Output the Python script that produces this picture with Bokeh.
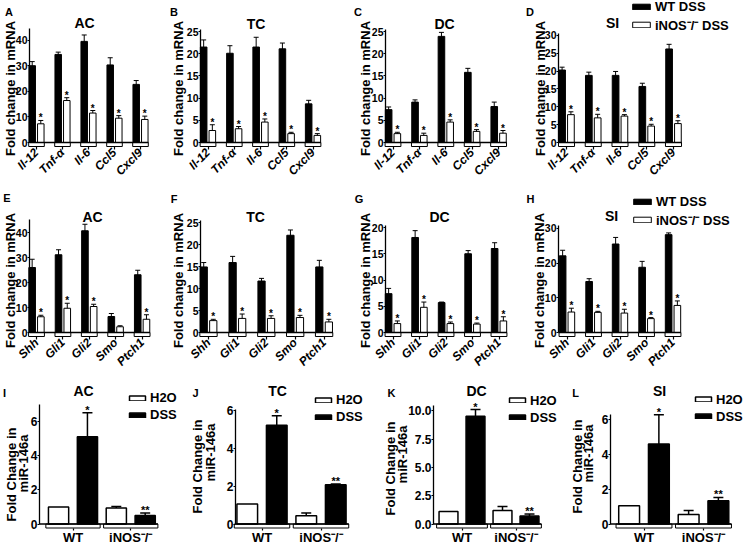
import math
from bokeh.plotting import figure
from bokeh.models import (Range1d, FixedTicker, Label, Legend, LegendItem,
                          Whisker, ColumnDataSource, TeeHead)
from bokeh.layouts import row, column
from bokeh.embed import file_html
from bokeh.resources import INLINE
from bokeh.core.properties import value

FONT = "Liberation Sans"
SX = 1.0
SY = 1.0

# ---------------- data ----------------
cyto_genes = ["Il-12", "Tnf-α", "Il-6", "Ccl5", "Cxcl9"]
hh_genes = ["Shh", "Gli1", "Gli2", "Smo", "Ptch1"]
mir_groups = ["WT", "iNOS⁻/⁻"]
gene_series = ["WT DSS", "iNOS⁻/⁻ DSS"]
mir_series = ["H2O", "DSS"]
ylab_gene = ["Fold change in mRNA"]
ylab_mir = ["Fold Change in", "miR-146a"]

A_wt = [30.0, 34.4, 39.5, 30.3, 22.7]
A_wt_err = [1.6, 0.9, 2.5, 2.8, 1.5]
A_ko = [7.3, 16.4, 11.5, 9.5, 9.0]
A_ko_err = [1.3, 1.1, 1.0, 1.0, 1.3]
A_sig = ["*", "*", "*", "*", "*"]

B_wt = [21.5, 20.1, 21.5, 21.1, 8.7]
B_wt_err = [1.6, 1.7, 2.2, 1.3, 0.8]
B_ko = [2.7, 3.1, 4.6, 2.0, 1.6]
B_ko_err = [1.3, 0.5, 0.7, 0.3, 0.4]
B_sig = ["*", "*", "*", "*", "*"]

C_wt = [7.4, 9.1, 23.9, 15.8, 8.1]
C_wt_err = [0.6, 0.5, 0.9, 0.9, 1.0]
C_ko = [2.0, 1.6, 4.6, 2.5, 2.1]
C_ko_err = [0.3, 0.5, 0.5, 0.4, 0.6]
C_sig = ["*", "*", "*", "*", "*"]

D_wt = [20.3, 18.8, 18.8, 15.7, 26.2]
D_wt_err = [0.8, 0.9, 1.1, 0.9, 1.3]
D_ko = [7.8, 6.9, 7.4, 4.6, 5.3]
D_ko_err = [0.8, 1.0, 0.4, 0.5, 0.8]
D_sig = ["*", "*", "*", "*", "*"]

E_wt = [26.0, 31.1, 40.7, 6.4, 23.1]
E_wt_err = [3.3, 2.0, 2.6, 1.2, 1.8]
E_ko = [6.3, 9.7, 10.4, 2.3, 5.3]
E_ko_err = [0.6, 2.0, 0.9, 0.4, 1.8]
E_sig = ["*", "*", "*", "", "*"]

F_wt = [14.9, 15.9, 11.7, 22.1, 14.9]
F_wt_err = [1.0, 1.4, 0.6, 1.2, 1.5]
F_ko = [2.7, 3.2, 3.2, 3.4, 2.4]
F_ko_err = [0.3, 1.0, 0.6, 0.5, 0.6]
F_sig = ["*", "*", "*", "*", "*"]

G_wt = [7.4, 18.1, 5.7, 15.0, 16.0]
G_wt_err = [1.0, 1.3, 0.1, 0.6, 1.1]
G_ko = [1.7, 4.8, 1.7, 1.6, 2.2]
G_ko_err = [0.5, 1.0, 0.3, 0.2, 0.8]
G_sig = ["*", "*", "*", "*", "*"]

H_wt = [22.1, 14.7, 25.5, 18.8, 28.2]
H_wt_err = [1.6, 0.8, 1.9, 1.7, 0.5]
H_ko = [5.9, 5.8, 5.6, 4.0, 7.8]
H_ko_err = [1.1, 0.3, 1.1, 0.3, 1.3]
H_sig = ["*", "*", "*", "*", "*"]

I_h2o = [1.0, 0.94]
I_h2o_err = [0.0, 0.09]
I_dss = [5.1, 0.49]
I_dss_err = [1.4, 0.15]
I_sig = ["*", "**"]

J_h2o = [1.05, 0.44]
J_h2o_err = [0.0, 0.14]
J_dss = [5.2, 2.07]
J_dss_err = [0.5, 0.03]
J_sig = ["*", "**"]

K_h2o = [1.1, 1.2]
K_h2o_err = [0.0, 0.35]
K_dss = [9.5, 0.7]
K_dss_err = [0.6, 0.18]
K_sig = ["*", "**"]

L_h2o = [1.05, 0.54]
L_h2o_err = [0.0, 0.23]
L_dss = [4.6, 1.34]
L_dss_err = [1.68, 0.19]
L_sig = ["*", "**"]

ticks_A = [0, 10, 20, 30, 40]
ticks_B = [0, 5, 10, 15, 20, 25]
ticks_C = [0, 5, 10, 15, 20, 25]
ticks_D = [0, 5, 10, 15, 20, 25, 30]
ticks_E = [0, 10, 20, 30, 40]
ticks_F = [0, 5, 10, 15, 20, 25]
ticks_G = [0, 5, 10, 15, 20]
ticks_H = [0, 10, 20, 30]
ticks_I = [0, 2, 4, 6]
ticks_J = [0, 2, 4, 6]
ticks_K = [0, 2.5, 5, 7.5, 10]
ticklabels_K = ["0.0", "2.5", "5.0", "7.5", "10.0"]
ticks_L = [0, 2, 4, 6]

# ---------------- layout geometry (reference pixels) ----------------
R1, R2, R3 = (0, 188), (188, 377), (377, 545)
B3 = 523.5
GEOM = {
    "A": dict(kind="gene", fig=(0, 165), rowy=R1, axis=29, c0=36, sp=26, base=142, ppu=2.56, top=44.5,
              letter=(8.5, 11.5), title=("AC", 84, 22), ylab=[(10, 88)], legend=None),
    "B": dict(kind="gene", fig=(165, 350), rowy=R1, axis=200, c0=207.5, sp=26.25, base=142, ppu=4.44, top=25.5,
              letter=(173.5, 11.5), title=("TC", 255.5, 23), ylab=[(178, 88)], legend=None),
    "C": dict(kind="gene", fig=(350, 520), rowy=R1, axis=385, c0=392.5, sp=26.4, base=142, ppu=4.44, top=25.5,
              letter=(357.5, 11.5), title=("DC", 444, 23), ylab=[(365, 88)], legend=None),
    "D": dict(kind="gene", fig=(520, 745), rowy=R1, axis=558, c0=566, sp=26.75, base=142, ppu=3.57, top=30.5,
              letter=(529.5, 11.5), title=("SI", 612, 22), ylab=[(540, 88)], legend=(630, 6.0, 22.0)),
    "E": dict(kind="gene", fig=(0, 165), rowy=R2, axis=29, c0=36, sp=26.4, base=332, ppu=2.5, top=45.4,
              letter=(6.5, 197.5), title=("AC", 92, 216), ylab=[(10, 280)], legend=None),
    "F": dict(kind="gene", fig=(165, 350), rowy=R2, axis=200, c0=208, sp=28.9, base=332, ppu=4.4, top=25.5,
              letter=(173.5, 198), title=("TC", 255, 216), ylab=[(178, 280)], legend=None),
    "G": dict(kind="gene", fig=(350, 520), rowy=R2, axis=385, c0=392.5, sp=26.5, base=332, ppu=5.25, top=20.4,
              letter=(358.5, 198), title=("DC", 439, 216), ylab=[(365, 280)], legend=None),
    "H": dict(kind="gene", fig=(520, 745), rowy=R2, axis=558, c0=566.5, sp=26.5, base=332, ppu=3.47, top=30.9,
              letter=(530, 198), title=("SI", 611, 215), ylab=[(539, 280)], legend=(631, 199, 217)),
    "I": dict(kind="mir", fig=(0, 188), rowy=R3, axis=39, c0=72.5, sp=57.75, base=B3, ppu=17.1, top=7.0,
              letter=(4, 392), title=("AC", 83, 390), ylab=[(11, 474), (23, 463)], legend=(127, 395.5, 411)),
    "J": dict(kind="mir", fig=(188, 375), rowy=R3, axis=235, c0=261.5, sp=59, base=B3, ppu=19.0, top=6.05,
              letter=(195, 392), title=("TC", 277, 390), ylab=[(197, 466), (210, 452)], legend=(313, 397, 413)),
    "K": dict(kind="mir", fig=(375, 560), rowy=R3, axis=433, c0=461.5, sp=54, base=B3, ppu=11.33, top=10.5,
              letter=(391, 392), title=("DC", 476, 390), ylab=[(390, 468), (402, 454)], legend=(507, 397.5, 413.5)),
    "L": dict(kind="mir", fig=(560, 745), rowy=R3, axis=610, c0=643.5, sp=59.5, base=B3, ppu=17.4, top=6.3,
              letter=(575, 392), title=("SI", 659, 390), ylab=[(577, 466), (588, 453)], legend=(693, 397.5, 412.5)),
}

STYLE = {
    "gene": dict(off=0.165, bw=0.25, bhalf=0.30, lw=1.0, cap=5, star="10px", yfont="10.5px",
                 xfont="12px", xstyle="bold italic", xorient=math.pi / 4, xstand=1, xtick=3,
                 gw=22, gh=7, lh=15, lsp=2, first="black", second="white"),
    "mir": dict(off=0.25, bw=0.35, bhalf=0.47, lw=1.5, cap=10, star="11px", yfont="12px",
                xfont="13px", xstyle="bold", xorient="horizontal", xstand=0, xtick=2,
                gw=20, gh=6, lh=14, lsp=2, first="white", second="black"),
}
LEGEND_SHIFT = 4


def build(name, cats, v1, e1, v2, e2, sig, yticks, names, ylabs, yticklabels=None):
    g = GEOM[name]
    st = STYLE[g["kind"]]
    fx1, fx2 = g["fig"]
    ry1, ry2 = g["rowy"]
    left_pg, right_pg = round(fx1 * SX), round(fx2 * SX)
    top_pg, bot_pg = round(ry1 * SY), round(ry2 * SY)
    W = right_pg - left_pg
    H = bot_pg - top_pg
    bh = 4
    sp_pg = g["sp"] * SX
    ppu_pg = g["ppu"] * SY
    xs0 = (left_pg - g["c0"] * SX) / sp_pg
    xs1 = (right_pg - g["c0"] * SX) / sp_pg
    ys1 = (g["base"] * SY - top_pg) / ppu_pg
    ys0 = (g["base"] * SY - bot_pg) / ppu_pg

    def dx(px):
        return (px - g["c0"]) / g["sp"]

    def dy(py):
        return (g["base"] - py) / g["ppu"]

    p = figure(width=W, height=H, x_range=Range1d(xs0, xs1), y_range=Range1d(ys0, ys1),
               output_backend="svg", toolbar_location=None, title=None,
               min_border_left=0, min_border_right=0, min_border_top=0, min_border_bottom=0)
    p.grid.visible = False
    p.outline_line_color = None
    p.background_fill_color = "white"
    p.border_fill_color = "white"

    n = len(cats)
    xs = list(range(n))
    x1 = [x - st["off"] for x in xs]
    x2 = [x + st["off"] for x in xs]
    x_axis = dx(g["axis"])

    r1 = p.vbar(x=x1, top=v1, bottom=0, width=st["bw"], fill_color=st["first"],
                line_color="black", line_width=st["lw"])
    r2 = p.vbar(x=x2, top=v2, bottom=0, width=st["bw"], fill_color=st["second"],
                line_color="black", line_width=st["lw"])

    # error bars
    bx, lo, hi = [], [], []
    for xx, vv, ee in list(zip(x1, v1, e1)) + list(zip(x2, v2, e2)):
        if ee > 0:
            bx.append(xx)
            lo.append(vv - ee)
            hi.append(vv + ee)
    src = ColumnDataSource(dict(base=bx, lower=lo, upper=hi))
    p.add_layout(Whisker(source=src, base="base", lower="lower", upper="upper", dimension="height",
                         line_color="black", line_width=st["lw"],
                         upper_head=TeeHead(size=st["cap"], line_width=st["lw"]),
                         lower_head=TeeHead(size=st["cap"], line_width=st["lw"])))

    # significance marks
    p.text(x=x2, y=[a + b for a, b in zip(v2, e2)], text=sig, text_align="center",
           text_baseline="bottom", y_offset=3, text_font=value(FONT),
           text_font_size=st["star"], text_font_style="bold", text_color="black")

    # group brackets under the baseline, and the baseline
    p.quad(left=[x - st["bhalf"] for x in xs], right=[x + st["bhalf"] for x in xs],
           bottom=-bh / g["ppu"], top=0, fill_color=None, line_color="black", line_width=1)
    p.segment(x0=[x_axis], y0=[0], x1=[xs[-1] + st["bhalf"]], y1=[0], line_color="black", line_width=1.3)

    # axes drawn at fixed places inside the frame
    xa = p.xaxis[0]
    xa.fixed_location = -bh / g["ppu"]
    xa.ticker = FixedTicker(ticks=xs)
    xa.major_label_overrides = {i: c for i, c in enumerate(cats)}
    xa.axis_line_color = None
    xa.major_tick_in = 0
    xa.major_tick_out = st["xtick"]
    xa.major_tick_line_width = 1.2
    xa.minor_tick_line_color = None
    xa.major_label_orientation = st["xorient"]
    xa.major_label_standoff = st["xstand"]
    xa.major_label_text_font = FONT
    xa.major_label_text_font_size = st["xfont"]
    xa.major_label_text_font_style = st["xstyle"]
    xa.major_label_text_color = "black"

    ya = p.yaxis[0]
    ya.fixed_location = x_axis
    ya.ticker = FixedTicker(ticks=yticks)
    if yticklabels:
        ya.major_label_overrides = {t: s for t, s in zip(yticks, yticklabels)}
    ya.bounds = (0, g["top"])
    ya.axis_line_width = 1.3
    ya.major_tick_in = 0
    ya.major_tick_out = 2
    ya.major_tick_line_width = 1.2
    ya.minor_tick_line_color = None
    ya.major_label_standoff = 0
    ya.major_label_text_font = FONT
    ya.major_label_text_font_size = st["yfont"]
    ya.major_label_text_font_style = "bold"
    ya.major_label_text_color = "black"

    def lab(text, px, py, size, angle=0.0):
        p.add_layout(Label(x=dx(px), y=dy(py), text=text, text_font=FONT, text_font_size=size,
                           text_font_style="bold", text_align="center", text_baseline="middle",
                           angle=angle, text_color="black"))

    lab(name, g["letter"][0], g["letter"][1], "11px")
    t, tx, ty = g["title"]
    lab(t, tx, ty, "14px")
    for txt, (lx, ly) in zip(ylabs, g["ylab"]):
        lab(txt, lx, ly, "13px", angle=math.pi / 2)

    if g["legend"] is not None:
        bl, c1, c2 = g["legend"]
        ih = max(st["gh"], st["lh"])
        vx = (bl - fx1) * SX
        leg_bottom = (c2 - ry1) * SY + ih / 2
        vy = H - leg_bottom - LEGEND_SHIFT
        leg = Legend(items=[LegendItem(label=names[0], renderers=[r1]),
                            LegendItem(label=names[1], renderers=[r2])],
                     location=(vx, vy), orientation="vertical",
                     glyph_width=st["gw"], glyph_height=st["gh"], label_height=st["lh"],
                     label_standoff=3, spacing=st["lsp"], padding=0, margin=0,
                     border_line_color=None, background_fill_alpha=0,
                     label_text_font=FONT, label_text_font_size="13px",
                     label_text_font_style="bold", label_text_color="black")
        p.add_layout(leg)
    return p


pA = build("A", cyto_genes, A_wt, A_wt_err, A_ko, A_ko_err, A_sig, ticks_A, gene_series, ylab_gene)
pB = build("B", cyto_genes, B_wt, B_wt_err, B_ko, B_ko_err, B_sig, ticks_B, gene_series, ylab_gene)
pC = build("C", cyto_genes, C_wt, C_wt_err, C_ko, C_ko_err, C_sig, ticks_C, gene_series, ylab_gene)
pD = build("D", cyto_genes, D_wt, D_wt_err, D_ko, D_ko_err, D_sig, ticks_D, gene_series, ylab_gene)
pE = build("E", hh_genes, E_wt, E_wt_err, E_ko, E_ko_err, E_sig, ticks_E, gene_series, ylab_gene)
pF = build("F", hh_genes, F_wt, F_wt_err, F_ko, F_ko_err, F_sig, ticks_F, gene_series, ylab_gene)
pG = build("G", hh_genes, G_wt, G_wt_err, G_ko, G_ko_err, G_sig, ticks_G, gene_series, ylab_gene)
pH = build("H", hh_genes, H_wt, H_wt_err, H_ko, H_ko_err, H_sig, ticks_H, gene_series, ylab_gene)
pI = build("I", mir_groups, I_h2o, I_h2o_err, I_dss, I_dss_err, I_sig, ticks_I, mir_series, ylab_mir)
pJ = build("J", mir_groups, J_h2o, J_h2o_err, J_dss, J_dss_err, J_sig, ticks_J, mir_series, ylab_mir)
pK = build("K", mir_groups, K_h2o, K_h2o_err, K_dss, K_dss_err, K_sig, ticks_K, mir_series, ylab_mir,
           yticklabels=ticklabels_K)
pL = build("L", mir_groups, L_h2o, L_h2o_err, L_dss, L_dss_err, L_sig, ticks_L, mir_series, ylab_mir)

layout = column(row(pA, pB, pC, pD, spacing=0),
                row(pE, pF, pG, pH, spacing=0),
                row(pI, pJ, pK, pL, spacing=0), spacing=0)

open("out.html", "w").write(file_html(layout, INLINE))
